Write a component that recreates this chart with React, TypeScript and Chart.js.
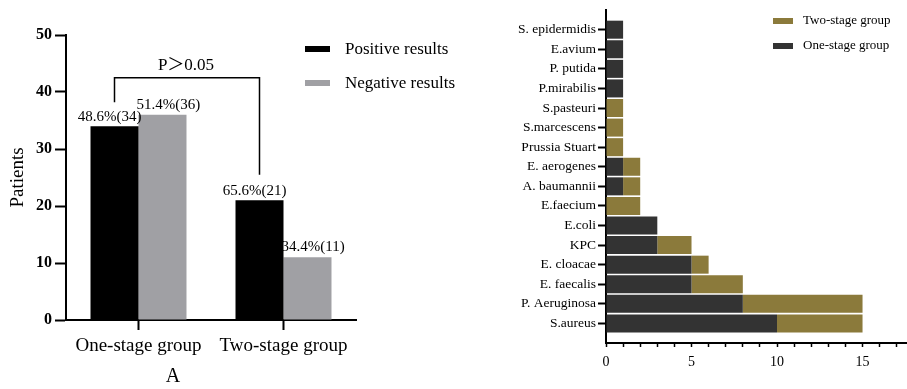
import React, { useEffect, useRef } from 'react';
import { Chart, registerables } from 'chart.js';

Chart.register(...registerables);

const SERIF = "'Liberation Serif', 'Times New Roman', 'Noto Sans CJK SC', serif";

// ---- Panel A data ----
const groupLabels = ['One-stage group', 'Two-stage group'];
const seriesNamesA = ['Positive results', 'Negative results'];
const positiveCounts = [34, 21];
const negativeCounts = [36, 11];
const positiveLabels = ['48.6%(34)', '65.6%(21)'];
const negativeLabels = ['51.4%(36)', '34.4%(11)'];
const pValueText = 'P＞0.05';
const panelLetter = 'A';
const colorsA = ['#000000', '#A0A0A4'];

// ---- Panel B data ----
const organisms = [
  'S. epidermidis', 'E.avium', 'P. putida', 'P.mirabilis', 'S.pasteuri', 'S.marcescens',
  'Prussia Stuart', 'E. aerogenes', 'A. baumannii', 'E.faecium', 'E.coli', 'KPC',
  'E. cloacae', 'E. faecalis', 'P. Aeruginosa', 'S.aureus',
];
const oneStageCounts = [1, 1, 1, 1, 0, 0, 0, 1, 1, 0, 3, 3, 5, 5, 8, 10];
const twoStageCounts = [0, 0, 0, 0, 1, 1, 1, 1, 1, 2, 0, 2, 1, 3, 7, 5];
const seriesNamesB = ['One-stage group', 'Two-stage group'];
const colorsB = ['#333333', '#8B7A3B'];
const xLabelStepB = 5;

const annotA = {
  id: 'annotA',
  afterDatasetsDraw(chart: any) {
    const ctx = chart.ctx;
    const y = chart.scales.y;
    const area = chart.chartArea;
    const m0 = chart.getDatasetMeta(0);
    const m1 = chart.getDatasetMeta(1);
    ctx.save();
    ctx.fillStyle = '#000';
    ctx.textBaseline = 'middle';
    ctx.font = `15px ${SERIF}`;
    m0.data.forEach((bar: any, i: number) => {
      ctx.textAlign = 'center';
      ctx.fillText(positiveLabels[i], bar.x - 5, bar.y - 9);
    });
    m1.data.forEach((bar: any, i: number) => {
      ctx.textAlign = 'left';
      ctx.fillText(negativeLabels[i], bar.x - bar.width / 2 - 2, bar.y - 10);
    });
    // significance bracket
    const xl = m0.data[0].x;
    const xr = m0.data[1].x;
    ctx.strokeStyle = '#000';
    ctx.lineWidth = 1.5;
    ctx.beginPath();
    ctx.moveTo(xl, y.getPixelForValue(38.2));
    ctx.lineTo(xl, y.getPixelForValue(42.5));
    ctx.lineTo(xr, y.getPixelForValue(42.5));
    ctx.lineTo(xr, y.getPixelForValue(25.5));
    ctx.stroke();
    ctx.font = `17px ${SERIF}`;
    ctx.textAlign = 'center';
    ctx.fillText(pValueText, (xl + xr) / 2 - 1, y.getPixelForValue(44.7));
    // legend
    ctx.font = `17px ${SERIF}`;
    ctx.textAlign = 'left';
    seriesNamesA.forEach((name, i) => {
      const cy = area.top + 14 + i * 34;
      ctx.fillStyle = colorsA[i];
      ctx.fillRect(area.right - 51, cy - 3, 25, 6);
      ctx.fillStyle = '#000';
      ctx.fillText(name, area.right - 11, cy + 1);
    });
    // panel letter
    ctx.font = `20px ${SERIF}`;
    ctx.textAlign = 'center';
    ctx.fillText(panelLetter, area.left + 107, 377);
    ctx.restore();
  },
};

const legendB = {
  id: 'legendB',
  afterDatasetsDraw(chart: any) {
    const ctx = chart.ctx;
    const area = chart.chartArea;
    ctx.save();
    ctx.font = `13px ${SERIF}`;
    ctx.textBaseline = 'middle';
    ctx.textAlign = 'left';
    const order = [1, 0];
    order.forEach((d, k) => {
      const cy = 21 + k * 25;
      ctx.fillStyle = colorsB[d];
      ctx.fillRect(area.right - 134, cy - 3, 20, 6);
      ctx.fillStyle = '#000';
      ctx.fillText(seriesNamesB[d], area.right - 104, cy);
    });
    ctx.restore();
  },
};

export default function App() {
  const refA = useRef<HTMLCanvasElement>(null);
  const refB = useRef<HTMLCanvasElement>(null);

  useEffect(() => {
    const chartA = new Chart(refA.current as HTMLCanvasElement, {
      type: 'bar',
      data: {
        labels: groupLabels,
        datasets: [
          { label: seriesNamesA[0], data: positiveCounts, backgroundColor: colorsA[0] },
          { label: seriesNamesA[1], data: negativeCounts, backgroundColor: colorsA[1] },
        ],
      },
      options: {
        animation: false,
        responsive: false,
        maintainAspectRatio: false,
        layout: { padding: { left: 0, top: 35, right: 104, bottom: 0 } },
        datasets: { bar: { categoryPercentage: 0.662, barPercentage: 1 } },
        plugins: { legend: { display: false }, tooltip: { enabled: false } },
        scales: {
          x: {
            grid: { display: true, drawOnChartArea: false, drawTicks: true, offset: false, tickLength: 10, tickWidth: 2, color: '#000', tickColor: '#000' },
            border: { display: true, color: '#000', width: 2 },
            ticks: { color: '#000', padding: 5, font: { family: SERIF, size: 19 } },
            afterFit: (s: any) => { s.height = 69; },
          },
          y: {
            min: 0,
            max: 50,
            grid: { display: true, drawOnChartArea: false, drawTicks: true, tickLength: 11, tickWidth: 2, color: '#000', tickColor: '#000' },
            border: { display: true, color: '#000', width: 2 },
            ticks: { stepSize: 10, color: '#000', padding: 3, font: { family: SERIF, size: 16, weight: 'bold' } },
            title: { display: true, text: 'Patients', color: '#000', padding: { top: 7, bottom: 0 }, font: { family: SERIF, size: 19 } },
            afterFit: (s: any) => { s.width = 66; },
          },
        },
      },
      plugins: [annotA],
    } as any);

    const labelsB = ['', ...organisms, ''];
    const chartB = new Chart(refB.current as HTMLCanvasElement, {
      type: 'bar',
      data: {
        labels: labelsB,
        datasets: [
          { label: seriesNamesB[0], data: [null, ...oneStageCounts, null], backgroundColor: colorsB[0] },
          { label: seriesNamesB[1], data: [null, ...twoStageCounts, null], backgroundColor: colorsB[1] },
        ],
      },
      options: {
        indexAxis: 'y',
        animation: false,
        responsive: false,
        maintainAspectRatio: false,
        layout: { padding: { left: 0, top: 7, right: 0, bottom: 0 } },
        datasets: { bar: { categoryPercentage: 1, barPercentage: 0.92 } },
        plugins: { legend: { display: false }, tooltip: { enabled: false } },
        scales: {
          x: {
            stacked: true,
            min: 0,
            max: 17.6,
            grid: { display: true, drawOnChartArea: false, drawTicks: true, tickLength: 4, tickWidth: 1.5, color: '#000', tickColor: '#000' },
            border: { display: true, color: '#000', width: 2 },
            ticks: {
              stepSize: 1,
              includeBounds: false,
              autoSkip: false,
              maxRotation: 0,
              color: '#000',
              padding: 7,
              font: { family: SERIF, size: 14 },
              callback: (v: any) => (Number(v) % xLabelStepB === 0 ? String(v) : ''),
            },
            afterFit: (s: any) => { s.height = 46; },
          },
          y: {
            stacked: true,
            offset: false,
            grid: {
              display: true, drawOnChartArea: false, drawTicks: true, offset: false, tickLength: 8, tickWidth: 2, color: '#000',
              tickColor: (c: any) => (labelsB[c.index] ? '#000' : 'rgba(0,0,0,0)'),
            },
            border: { display: true, color: '#000', width: 2 },
            ticks: { autoSkip: false, color: '#000', padding: 2, font: { family: SERIF, size: 13.5 } },
            afterFit: (s: any) => { s.width = 146; },
          },
        },
      },
      plugins: [legendB],
    } as any);

    return () => {
      chartA.destroy();
      chartB.destroy();
    };
  }, []);

  return (
    <div style={{ position: 'absolute', left: 0, top: 0, width: 907, height: 389, background: '#fff' }}>
      <canvas ref={refA} width={460} height={389} style={{ position: 'absolute', left: 0, top: 0, width: 460, height: 389 }} />
      <canvas ref={refB} width={447} height={389} style={{ position: 'absolute', left: 460, top: 0, width: 447, height: 389 }} />
    </div>
  );
}
